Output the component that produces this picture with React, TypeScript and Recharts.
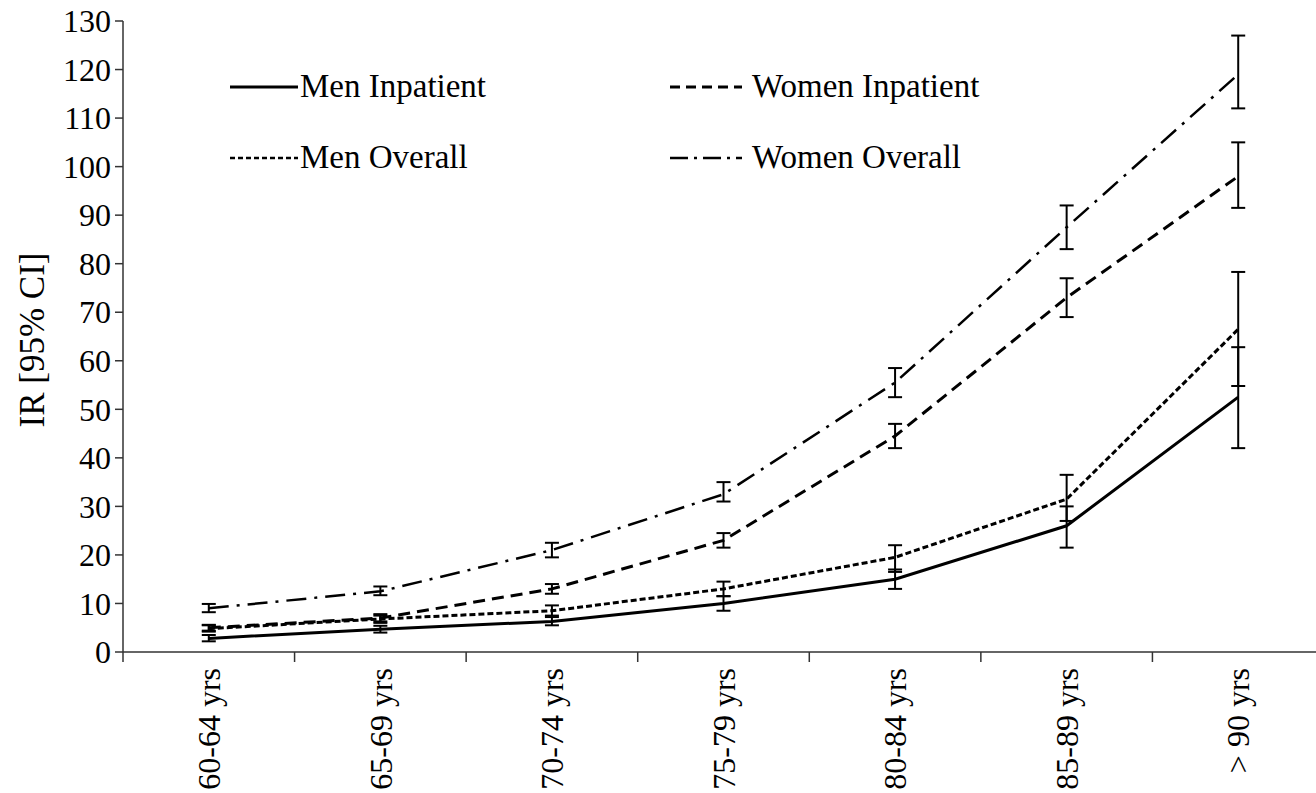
import React from "react";
import { LineChart, Line, XAxis, YAxis, ErrorBar } from "recharts";

const ageGroups = [
  "60-64 yrs",
  "65-69 yrs",
  "70-74 yrs",
  "75-79 yrs",
  "80-84 yrs",
  "85-89 yrs",
  "> 90 yrs",
];

const menInpatient = [2.8, 4.7, 6.3, 10, 15, 26, 52.5];
const menInpatientLow = [2.2, 4.0, 5.5, 8.5, 13, 21.5, 42];
const menInpatientHigh = [3.5, 5.4, 7.2, 11.5, 17, 30, 62.8];

const menOverall = [4.8, 6.8, 8.5, 13, 19.5, 31.5, 66.5];
const menOverallLow = [4.2, 6.0, 7.5, 11.5, 16.5, 27, 54.8];
const menOverallHigh = [5.5, 7.5, 9.6, 14.5, 22, 36.5, 78.3];

const womenInpatient = [5, 7, 13, 23, 44.5, 73, 98];
const womenInpatientLow = [4.4, 6.3, 12, 21.5, 42, 69, 91.5];
const womenInpatientHigh = [5.6, 7.8, 14, 24.5, 47, 77, 105];

const womenOverall = [9, 12.5, 21, 32.5, 55.5, 87.5, 119];
const womenOverallLow = [8.2, 11.7, 19.5, 31, 52.5, 83, 112];
const womenOverallHigh = [9.9, 13.5, 22.5, 35, 58.5, 92, 127];

const yTicks = [0, 10, 20, 30, 40, 50, 60, 70, 80, 90, 100, 110, 120, 130];

const err = (v: number[], lo: number[], hi: number[], i: number) => [
  v[i] - lo[i],
  hi[i] - v[i],
];

const data = ageGroups.map((age, i) => ({
  age,
  mi: menInpatient[i],
  miErr: err(menInpatient, menInpatientLow, menInpatientHigh, i),
  mo: menOverall[i],
  moErr: err(menOverall, menOverallLow, menOverallHigh, i),
  wi: womenInpatient[i],
  wiErr: err(womenInpatient, womenInpatientLow, womenInpatientHigh, i),
  wo: womenOverall[i],
  woErr: err(womenOverall, womenOverallLow, womenOverallHigh, i),
}));

const FONT = "Liberation Serif, DejaVu Serif, serif";
const AXIS = "#333";

const CHART_W = 1324;
const CHART_H = 793;
const LEFT = 123;
const BAND = (CHART_W - LEFT) / ageGroups.length;

const XTick = (props: any) => {
  const { x, y, payload } = props;
  return (
    <g>
      <line x1={x - BAND / 2} y1={y} x2={x - BAND / 2} y2={y + 10} stroke={AXIS} strokeWidth={1.5} />
      <text
        x={x}
        y={y + 16}
        transform={`rotate(-90, ${x}, ${y + 16})`}
        textAnchor="end"
        dy="0.35em"
        style={{ fontFamily: FONT, fontSize: 32 }}
        fill="#000"
      >
        {payload.value}
      </text>
    </g>
  );
};

const YTick = (props: any) => {
  const { x, y, payload } = props;
  return (
    <text
      x={x}
      y={y}
      textAnchor="end"
      dy="0.35em"
      style={{ fontFamily: FONT, fontSize: 32 }}
      fill="#000"
    >
      {payload.value}
    </text>
  );
};

const legendItems = [
  { name: "Men Inpatient", dash: undefined, x: 230, y: 87, w: 68, sw: 3 },
  { name: "Women Inpatient", dash: "10 6", x: 670, y: 87, w: 72, sw: 3 },
  { name: "Men Overall", dash: "5 3", x: 230, y: 158, w: 68, sw: 2.5 },
  { name: "Women Overall", dash: "18 6 3 6", x: 670, y: 158, w: 72, sw: 2.5 },
];

export default function App() {
  return (
    <div
      style={{
        position: "absolute",
        left: 0,
        top: 0,
        width: 1316,
        height: 793,
        overflow: "hidden",
        background: "#fff",
        fontFamily: FONT,
      }}
    >
      <LineChart
        width={CHART_W}
        height={CHART_H}
        data={data}
        margin={{ top: 21, right: 0, left: 0, bottom: 0 }}
      >
        <XAxis
          dataKey="age"
          scale="band"
          height={141}
          interval={0}
          tickLine={false}
          tickSize={0}
          tickMargin={0}
          axisLine={{ stroke: AXIS, strokeWidth: 1.5 }}
          tick={<XTick />}
        />
        <YAxis
          width={LEFT}
          domain={[0, 130]}
          ticks={yTicks}
          interval={0}
          tickSize={8}
          tickMargin={4}
          axisLine={{ stroke: AXIS, strokeWidth: 1.5 }}
          tickLine={{ stroke: AXIS, strokeWidth: 1.5 }}
          tick={<YTick />}
        />
        <Line
          dataKey="mi"
          name="Men Inpatient"
          stroke="#000"
          strokeWidth={3}
          dot={false}
          isAnimationActive={false}
        >
          <ErrorBar dataKey="miErr" width={7} stroke="#000" strokeWidth={2} direction="y" />
        </Line>
        <Line
          dataKey="mo"
          name="Men Overall"
          stroke="#000"
          strokeWidth={3}
          strokeDasharray="6 3"
          dot={false}
          isAnimationActive={false}
        >
          <ErrorBar dataKey="moErr" width={7} stroke="#000" strokeWidth={2} direction="y" />
        </Line>
        <Line
          dataKey="wi"
          name="Women Inpatient"
          stroke="#000"
          strokeWidth={3}
          strokeDasharray="12 7"
          dot={false}
          isAnimationActive={false}
        >
          <ErrorBar dataKey="wiErr" width={7} stroke="#000" strokeWidth={2} direction="y" />
        </Line>
        <Line
          dataKey="wo"
          name="Women Overall"
          stroke="#000"
          strokeWidth={2.5}
          strokeDasharray="20 8 3 8"
          dot={false}
          isAnimationActive={false}
        >
          <ErrorBar dataKey="woErr" width={7} stroke="#000" strokeWidth={2} direction="y" />
        </Line>
      </LineChart>

      {/* legend and y-axis title drawn on top, like the original */}
      <svg
        width={1316}
        height={793}
        style={{ position: "absolute", left: 0, top: 0, pointerEvents: "none" }}
      >
        <text
          x={32}
          y={340}
          transform="rotate(-90, 32, 340)"
          textAnchor="middle"
          dy="0.35em"
          style={{ fontFamily: FONT, fontSize: 35 }}
          fill="#000"
        >
          IR [95% CI]
        </text>
        {legendItems.map((it) => (
          <g key={it.name}>
            <line
              x1={it.x}
              y1={it.y}
              x2={it.x + it.w}
              y2={it.y}
              stroke="#000"
              strokeWidth={it.sw}
              strokeDasharray={it.dash}
            />
            <text
              x={it.x + it.w + (it.x > 500 ? 10 : 2)}
              y={it.y + 10}
              style={{ fontFamily: FONT, fontSize: 33 }}
              fill="#000"
            >
              {it.name}
            </text>
          </g>
        ))}
      </svg>
    </div>
  );
}
